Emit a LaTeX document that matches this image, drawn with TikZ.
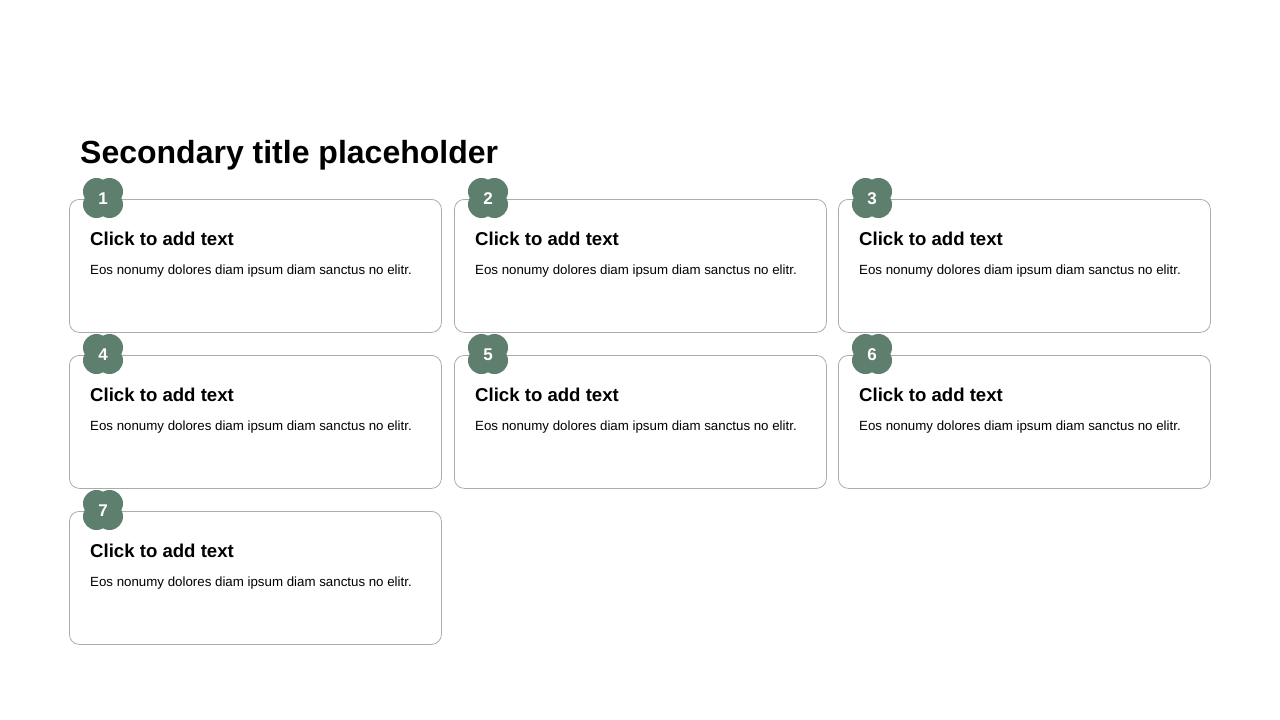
\documentclass[tikz,border=0pt]{standalone}
\usepackage{fontspec}
\setmainfont{Liberation Sans}
\definecolor{badgegreen}{HTML}{5E7F6E}
\definecolor{cardline}{HTML}{ABABAB}
\tikzset{
  cardbox/.style={draw=cardline, line width=0.8pt, rounded corners=10pt, fill=white,
    minimum width=372pt, minimum height=133pt, anchor=north west, inner sep=0pt},
  headtext/.style={anchor=base west, inner sep=0pt, font=\fontsize{18.6}{22}\selectfont\bfseries},
  bodytext/.style={anchor=base west, inner sep=0pt, font=\fontsize{13.3}{16}\selectfont},
  badgenum/.style={text=white, inner sep=0pt, anchor=base, font=\fontsize{17}{20}\selectfont\bfseries},
}
\begin{document}
\begin{tikzpicture}[x=1pt,y=-1pt]
\useasboundingbox[fill=white] (0,0) rectangle (1280,720);
\node[anchor=base west, inner sep=0pt, font=\fontsize{32}{38}\selectfont\bfseries] (title) at (80,163) {Secondary title placeholder};
\foreach \n/\cx/\cy in {1/69/199, 2/454/199, 3/838/199, 4/69/355, 5/454/355, 6/838/355, 7/69/511} {
  \node[cardbox] (card\n) at (\cx,\cy) {};
  \node[headtext] (head\n) at ([xshift=21pt,yshift=-46.5pt]card\n.north west) {Click to add text};
  \node[bodytext] (body\n) at ([xshift=21pt,yshift=-75.5pt]card\n.north west) {Eos nonumy dolores diam ipsum diam sanctus no elitr.};
  \coordinate (bc\n) at ([xshift=34pt,yshift=1pt]card\n.north west);
  \fill[badgegreen] ([shift={(-6.5pt,-6.5pt)}]bc\n) circle (13.5pt)
                    ([shift={(6.5pt,-6.5pt)}]bc\n) circle (13.5pt)
                    ([shift={(-6.5pt,6.5pt)}]bc\n) circle (13.5pt)
                    ([shift={(6.5pt,6.5pt)}]bc\n) circle (13.5pt)
                    (bc\n) circle (17pt);
  \node[badgenum] (badge\n) at ([yshift=-6.5pt]bc\n) {\n};
}
\end{tikzpicture}
\end{document}
